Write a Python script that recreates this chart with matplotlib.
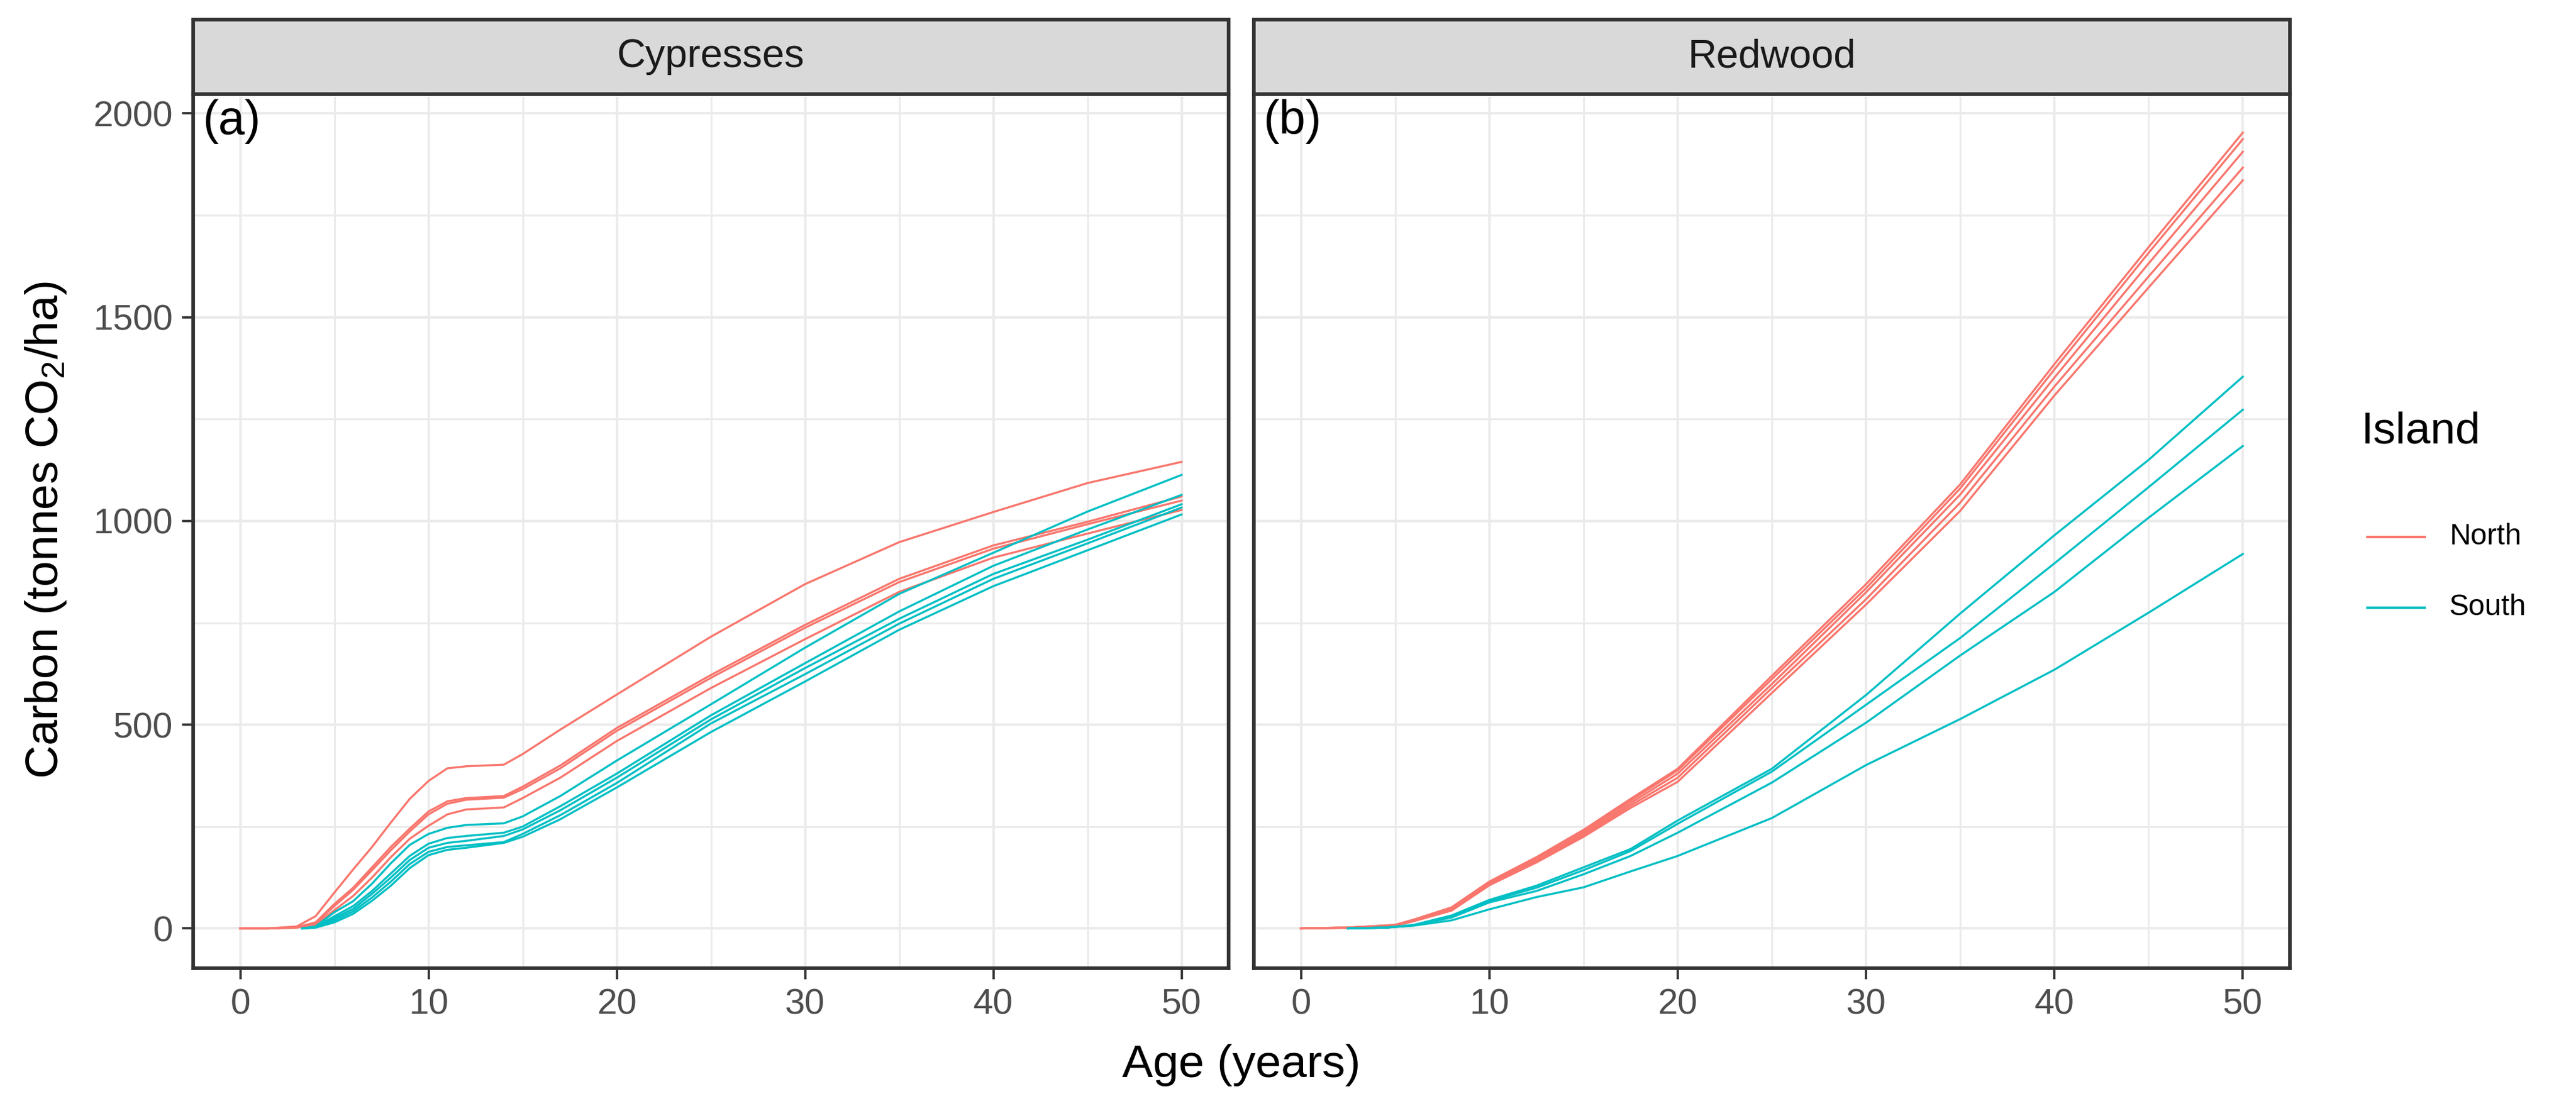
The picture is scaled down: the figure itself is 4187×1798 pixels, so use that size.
import numpy as np
import matplotlib
matplotlib.use("Agg")
import matplotlib.pyplot as plt
from matplotlib.patches import Rectangle
from matplotlib.lines import Line2D

plt.rcParams['font.family'] = ['Liberation Sans', 'DejaVu Sans']
plt.rcParams['mathtext.fontset'] = 'custom'
plt.rcParams['mathtext.rm'] = 'Liberation Sans'
plt.rcParams['mathtext.default'] = 'regular'

# ---- data ----
species = ["Cypresses", "Redwood"]
panel_tags = ["(a)", "(b)"]
islands = ["North", "South"]

# Cypresses
cyp_age_north = [0, 1.5, 3, 4, 5, 6, 7, 8, 9, 10, 11, 12, 14, 15, 17, 20, 25, 30, 35, 40, 45, 50]
cyp_north = [
    [0, 0, 5, 30, 88, 145, 200, 260, 318, 362, 393, 398, 402, 428, 488, 574, 716, 845, 948, 1022, 1093, 1145],
    [0, 0, 3, 15, 60, 100, 150, 200, 245, 287, 312, 320, 325, 348, 400, 492, 622, 745, 858, 940, 998, 1060],
    [0, 0, 3, 13, 55, 95, 143, 192, 238, 280, 306, 316, 321, 342, 393, 485, 615, 738, 850, 932, 992, 1050],
    [0, 0, 2, 10, 45, 80, 125, 175, 220, 252, 280, 292, 297, 320, 370, 460, 590, 710, 826, 910, 969, 1027],
]
cyp_age_south = [3.3, 4, 5, 6, 7, 8, 9, 10, 11, 12, 14, 15, 17, 20, 25, 30, 35, 40, 45, 50]
cyp_south = [
    [0, 5, 40, 67, 110, 160, 205, 232, 247, 254, 258, 275, 325, 412, 550, 689, 821, 922, 1023, 1113],
    [0, 4, 30, 55, 92, 135, 178, 208, 222, 227, 235, 250, 300, 380, 523, 651, 778, 890, 979, 1064],
    [0, 3, 25, 48, 85, 125, 168, 198, 210, 215, 227, 243, 290, 370, 513, 639, 760, 870, 954, 1041],
    [0, 3, 20, 42, 76, 115, 158, 188, 200, 204, 212, 232, 278, 357, 503, 624, 748, 858, 945, 1033],
    [0, 2, 15, 36, 68, 105, 148, 180, 193, 198, 210, 225, 268, 346, 482, 606, 733, 840, 928, 1016],
]

# Redwood
rw_age_north = [0, 2.5, 5, 6, 8, 10, 12.5, 15, 17.5, 20, 25, 30, 35, 40, 45, 50]
rw_north = [
    [0, 2, 9, 22, 52, 115, 175, 242, 318, 392, 620, 845, 1090, 1385, 1672, 1953],
    [0, 2, 8, 21, 50, 113, 172, 238, 314, 388, 612, 835, 1080, 1372, 1658, 1937],
    [0, 2, 8, 20, 48, 111, 169, 233, 308, 380, 600, 825, 1065, 1352, 1632, 1906],
    [0, 2, 7, 19, 46, 109, 166, 229, 302, 370, 590, 808, 1045, 1330, 1600, 1867],
    [0, 2, 7, 18, 44, 106, 162, 225, 296, 360, 578, 795, 1025, 1308, 1573, 1836],
]
rw_age_south = [2.5, 4.5, 6, 8, 10, 12.5, 15, 17.5, 20, 25, 30, 35, 40, 45, 50]
rw_south = [
    [0, 2, 9, 32, 70, 105, 150, 195, 265, 392, 573, 773, 965, 1150, 1354],
    [0, 2, 8, 30, 67, 100, 143, 190, 257, 385, 549, 713, 896, 1083, 1273],
    [0, 2, 8, 27, 64, 92, 133, 178, 235, 358, 505, 670, 826, 1008, 1184],
    [0, 2, 7, 20, 47, 77, 101, 140, 178, 271, 401, 514, 635, 775, 919],
]

x_major = [0, 10, 20, 30, 40, 50]
y_major = [0, 500, 1000, 1500, 2000]

colors = {"North": "#F8766D", "South": "#00BFC4"}

W, H = 4187, 1798


def style_panel(ax, title, tag, show_y):
    ax.set_xlim(-2.5, 52.5)
    ax.set_ylim(-97.5, 2047.5)
    ax.set_xticks(x_major)
    ax.set_xticks([5, 15, 25, 35, 45], minor=True)
    ax.set_yticks(y_major)
    ax.set_yticks([250, 750, 1250, 1750], minor=True)
    ax.grid(which='major', color='#EBEBEB', linewidth=1.0)
    ax.grid(which='minor', color='#EBEBEB', linewidth=0.7)
    ax.set_axisbelow(True)
    for s in ax.spines.values():
        s.set_color('#333333')
        s.set_linewidth(1.4)
    ax.tick_params(which='major', length=4.4, width=0.9, color='#333333',
                   labelsize=14, labelcolor='#4D4D4D', pad=3.5)
    ax.tick_params(which='minor', length=0)
    if not show_y:
        ax.tick_params(axis='y', which='major', length=0, labelleft=False)

    # facet strip
    strip_h = 121 / 1421
    ax.add_patch(Rectangle((0, 1), 1, strip_h, transform=ax.transAxes,
                           facecolor='#D9D9D9', edgecolor='#333333',
                           linewidth=1.4, clip_on=False, zorder=5))
    ax.text(0.5, 1 + strip_h / 2, title, transform=ax.transAxes,
            ha='center', va='center', fontsize=15.5, color='#1A1A1A', zorder=6)
    ax.text(-2.0, 1980, tag, ha='left', va='center', fontsize=18.5, color='black')


def plot():
    fig = plt.figure(figsize=(W / 300, H / 300), dpi=300)
    ax_a = fig.add_axes([314 / W, 224 / H, 1683 / W, 1421 / H])
    ax_b = fig.add_axes([2038 / W, 224 / H, 1684 / W, 1421 / H])

    lw = 0.8
    for vals in cyp_north:
        ax_a.plot(cyp_age_north, vals, color=colors["North"], lw=lw)
    for vals in cyp_south:
        ax_a.plot(cyp_age_south, vals, color=colors["South"], lw=lw)
    for vals in rw_north:
        ax_b.plot(rw_age_north, vals, color=colors["North"], lw=lw)
    for vals in rw_south:
        ax_b.plot(rw_age_south, vals, color=colors["South"], lw=lw)

    style_panel(ax_a, species[0], panel_tags[0], True)
    style_panel(ax_b, species[1], panel_tags[1], False)

    fig.text(75 / W, 1 - 862 / H, r'Carbon (tonnes CO$_2$/ha)',
             rotation=90, ha='center', va='center', fontsize=18)
    fig.text(2018 / W, 1 - 1731 / H, 'Age (years)',
             ha='center', va='center', fontsize=18)

    # legend (drawn by hand to match the guide layout)
    fig.text(3837 / W, 1 - 702 / H, 'Island', ha='left', va='center', fontsize=17.5)
    for name, y in zip(islands, [873, 988]):
        fig.add_artist(Line2D([3848 / W, 3941 / W], [1 - y / H, 1 - y / H],
                              transform=fig.transFigure, color=colors[name], lw=1.0))
        fig.text(3981 / W, 1 - y / H, name, ha='left', va='center', fontsize=11.5)

    fig.savefig("out.png", dpi=300)


if __name__ == "__main__":
    plot()
